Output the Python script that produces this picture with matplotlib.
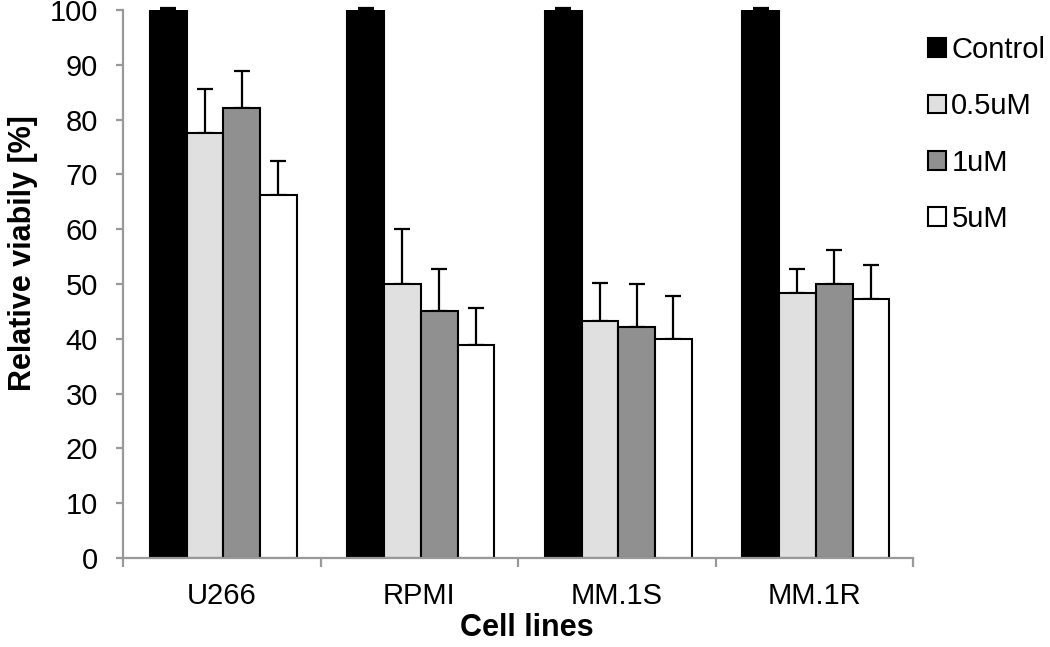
import numpy as np
import matplotlib.pyplot as plt

plt.rcParams['font.family'] = ['Liberation Sans', 'DejaVu Sans']

cell_lines = ['U266', 'RPMI', 'MM.1S', 'MM.1R']
treatments = ['Control', '0.5uM', '1uM', '5uM']
colors = ['#000000', '#e0e0e0', '#909090', '#ffffff']

control = [100, 100, 100, 100]
dose_05 = [77.5, 50.0, 43.3, 48.3]
dose_1 = [82.2, 45.0, 42.2, 50.0]
dose_5 = [66.3, 38.9, 40.0, 47.2]

err_control = [0.3, 0.3, 0.3, 0.3]
err_05 = [8.0, 10.0, 6.8, 4.5]
err_1 = [6.7, 7.8, 7.8, 6.2]
err_5 = [6.2, 6.7, 7.8, 6.2]

values = [control, dose_05, dose_1, dose_5]
errors = [err_control, err_05, err_1, err_5]

fig = plt.figure(figsize=(10.5, 6.47), dpi=100)
ax = fig.add_axes([123 / 1050, 89 / 647, 790 / 1050, 548 / 647])

x = np.arange(len(cell_lines))
width = 0.186
for i, (vals, errs) in enumerate(zip(values, errors)):
    pos = x + (i - 1.5) * width + 0.008
    ax.bar(pos, vals, width, color=colors[i], edgecolor='black', linewidth=1.5,
           label=treatments[i], zorder=2)
    eb = ax.errorbar(pos, vals, yerr=[np.zeros(len(errs)), errs], fmt='none',
                     ecolor='black', elinewidth=1.6, capsize=6, capthick=1.6, zorder=1)
    for art in eb.lines[1] + eb.lines[2]:
        art.set_clip_on(False)

ax.set_xlim(-0.5, 3.5)
ax.set_ylim(0, 100)
ax.set_yticks(range(0, 101, 10))
ax.set_xticks(x)
ax.set_xticklabels(cell_lines)
ax.set_xticks(np.arange(-0.5, 4.0, 1.0), minor=True)
ax.tick_params(axis='x', which='major', length=0, pad=17, labelsize=21)
ax.tick_params(axis='x', which='minor', length=6.5, width=1.6, color='#999999')
ax.tick_params(axis='y', length=5, width=1.6, color='#999999', labelsize=21, pad=13)

for side in ['top', 'right']:
    ax.spines[side].set_visible(False)
for side in ['left', 'bottom']:
    ax.spines[side].set_color('#999999')
    ax.spines[side].set_linewidth(1.6)

ax.set_ylabel('Relative viabily [%]', fontsize=22, fontweight='bold')
ax.yaxis.set_label_coords(-0.108, 0.557)
ax.set_xlabel('Cell lines', fontsize=22, fontweight='bold')
ax.xaxis.set_label_coords(0.511, -0.1)

ax.legend(loc='upper left', bbox_to_anchor=(928 / 1050, 1 - 36 / 647),
          bbox_transform=fig.transFigure, frameon=False, borderpad=0,
          borderaxespad=0, fontsize=21, handlelength=0.6, handleheight=0.6,
          handletextpad=0.2, labelspacing=0.97)

fig.savefig('out.png', dpi=100)
